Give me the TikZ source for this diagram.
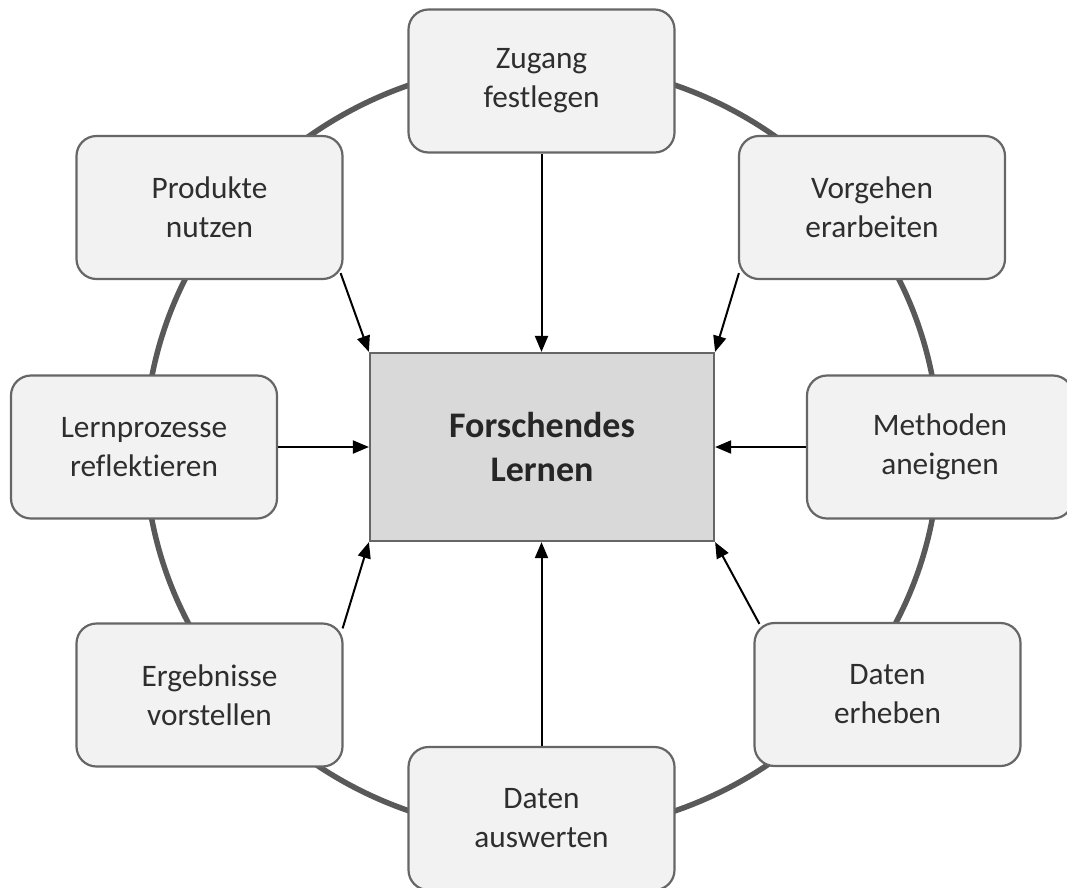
\documentclass[tikz,border=0pt]{standalone}
\usepackage{fontspec}
\setmainfont{Carlito}[Ligatures=NoCommon]
\usetikzlibrary{arrows.meta}
\definecolor{ringgray}{HTML}{595959}
\definecolor{edgegray}{HTML}{666666}
\definecolor{boxfill}{HTML}{F2F2F2}
\definecolor{corefill}{HTML}{D9D9D9}
\definecolor{txtgray}{HTML}{2E2E2E}
\tikzset{
  stepbox/.style={draw=edgegray, line width=2.2pt, fill=boxfill, rounded corners=20pt,
    minimum width=266pt, minimum height=143pt, align=center, inner sep=0pt,
    text=txtgray, font=\fontsize{31.3}{39}\selectfont},
  corebox/.style={draw=edgegray, line width=2.2pt, fill=corefill,
    minimum width=344pt, minimum height=188pt, align=center, inner sep=0pt,
    text=black!85, font=\fontsize{36}{44}\selectfont\bfseries},
  ring/.style={draw=ringgray, line width=5.5pt},
  flow/.style={draw=black, line width=2pt, -{Triangle[length=16pt,width=13pt]}}
}
\begin{document}
\begin{tikzpicture}[x=1pt, y=-1pt]
  \useasboundingbox (0,0) rectangle (1067,887);
  % outer cycle
  \draw[ring] (542,448) ellipse [x radius=397, y radius=385];
  % central theme
  \node[corebox] (core) at (542,447) {Forschendes\\Lernen};
  % activities around the cycle
  \node[stepbox] (zugang)   at (541.5,81)    {Zugang\\festlegen};
  \node[stepbox] (vorgehen) at (872,207.5)   {Vorgehen\\erarbeiten};
  \node[stepbox] (methoden) at (940,447)     {Methoden\\aneignen};
  \node[stepbox] (erheben)  at (887.5,694.5) {Daten\\erheben};
  \node[stepbox] (auswert)  at (541.5,818.5) {Daten\\auswerten};
  \node[stepbox] (ergebn)   at (209.5,695)   {Ergebnisse\\vorstellen};
  \node[stepbox] (lernpro)  at (144,447)     {Lernprozesse\\reflektieren};
  \node[stepbox] (produkte) at (209.5,207.5) {Produkte\\nutzen};
  % arrows into the centre
  \draw[flow] (zugang.south) -- (zugang.south |- core.north);
  \draw[flow] (auswert.north) -- (auswert.north |- core.south);
  \draw[flow] (lernpro.east) -- (core.west);
  \draw[flow] (methoden.west) -- (core.east);
  \draw[flow] ([shift={(-3,-7)}]produkte.south east) -- (core.north west);
  \draw[flow] ([shift={(1,-7)}]vorgehen.south west) -- (core.north east);
  \draw[flow] ([shift={(-1,6)}]ergebn.north east) -- (core.south west);
  \draw[flow] ([shift={(6,2)}]erheben.north west) -- (core.south east);
\end{tikzpicture}
\end{document}
